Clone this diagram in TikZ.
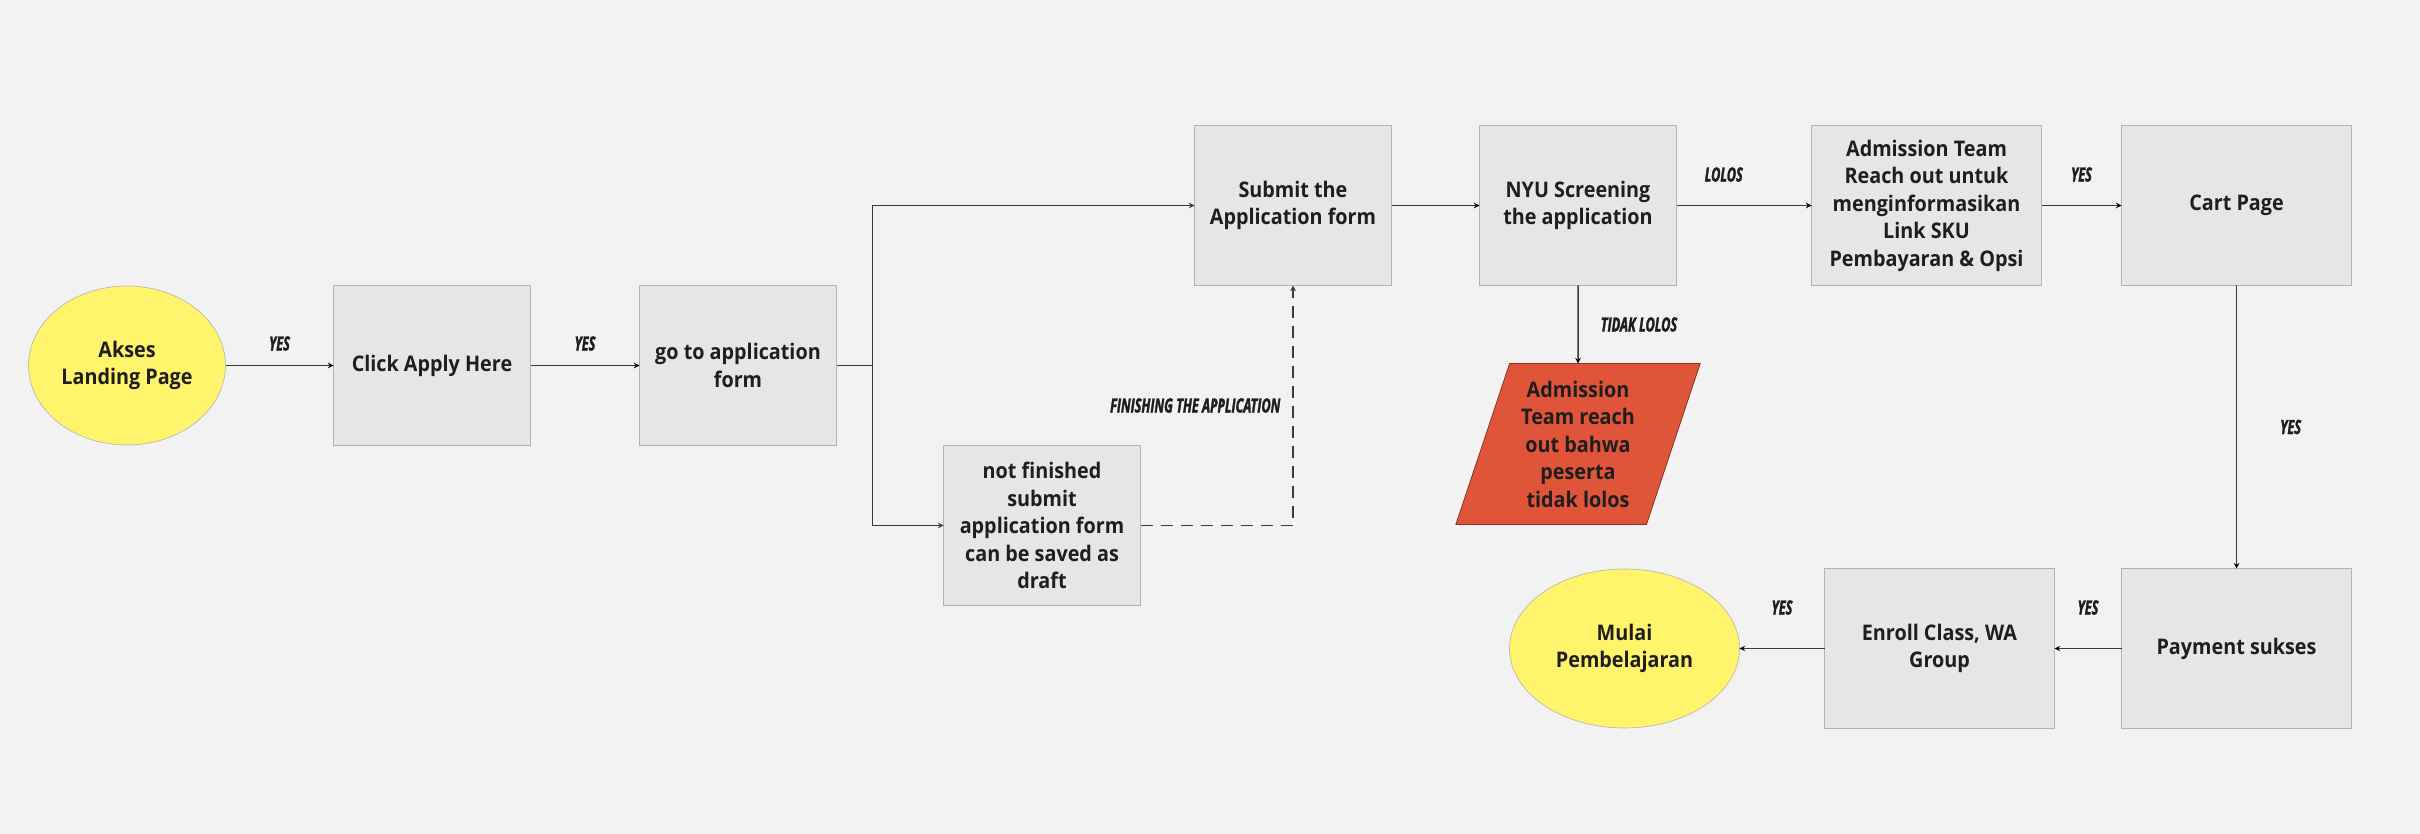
\documentclass[tikz,border=0pt]{standalone}
\usepackage{fontspec}
\usepackage{xcolor}
\usetikzlibrary{shapes,arrows,positioning}

\newfontfamily\boxfont[FakeStretch=0.92]{Open Sans}
\newfontfamily\lblfont[FakeStretch=0.65,FakeBold=1.6]{Open Sans}

\definecolor{bgcol}{HTML}{F2F2F2}
\definecolor{boxfill}{HTML}{E6E6E6}
\definecolor{boxline}{HTML}{B3B3B3}
\definecolor{startfill}{HTML}{FFF46B}
\definecolor{rejectfill}{HTML}{E0553A}
\definecolor{inkcol}{HTML}{1E1E1E}
\definecolor{flowline}{HTML}{3A3A3A}

\tikzset{
    boxtext/.style={align=center, text=inkcol,
        font=\boxfont\bfseries\fontsize{21.5}{27.5}\selectfont},
    process/.style={rectangle, draw=boxline, fill=boxfill, line width=1pt, outer sep=0pt,
        minimum width=197pt, minimum height=160pt, inner sep=4pt, boxtext},
    wideprocess/.style={process, minimum width=230pt},
    terminal/.style={ellipse, draw=gray!60, fill=startfill, line width=0.6pt, outer sep=0pt,
        minimum width=197pt, minimum height=159pt, inner sep=2pt, boxtext},
    reject/.style={trapezium, trapezium left angle=70.5, trapezium right angle=109.5,
        trapezium stretches=true, draw=rejectfill!60!black, fill=rejectfill, line width=0.8pt,
        outer sep=0pt, minimum width=245pt, minimum height=161pt, inner sep=2pt, boxtext},
    lbl/.style={font=\lblfont\bfseries\itshape\fontsize{19.6}{20}\selectfont,
        text=inkcol, inner sep=0pt},
    flow/.style={->, >=stealth, draw=flowline, line width=1.5pt}
}

\begin{document}
\begin{tikzpicture}[x=1pt, y=1pt]
    % Canvas
    \fill[bgcol] (0,0) rectangle (2420,-834);
    \useasboundingbox (0,0) rectangle (2420,-834);

    % Steps
    \node[terminal] (akses) at (127,-365.5) {Akses\\Landing Page};
    \node[process, right=108pt of akses] (click) {Click Apply Here};
    \node[process, right=109pt of click] (goform) {go to application\\form};
    \node[process, above right=0pt and 358pt of goform] (submit) {Submit the\\Application form};
    \node[process, below right=0pt and 107pt of goform] (draft) {not finished\\submit\\application form\\can be saved as\\draft};
    \node[process, right=88pt of submit] (screening) {NYU Screening\\the application};
    \node[reject, below=78pt of screening] (tidaklolos) {Admission\\Team reach\\out bahwa\\peserta\\tidak lolos};
    \node[wideprocess, right=135pt of screening] (admission) {Admission Team\\Reach out untuk\\menginformasikan\\Link SKU\\Pembayaran \& Opsi};
    \node[wideprocess, right=80pt of admission] (cart) {Cart Page};
    \node[wideprocess, below=283pt of cart] (payment) {Payment sukses};
    \node[wideprocess, left=67pt of payment] (enroll) {Enroll Class, WA\\Group};
    \node[terminal, minimum width=230pt, left=85pt of enroll] (mulai) {Mulai\\Pembelajaran};
    \coordinate[right=36pt of goform] (split);

    % Transitions
    \path[flow]
        (akses) edge node[lbl, above=14pt] {YES} (click)
        (click) edge node[lbl, above=14pt] {YES} (goform)
        (submit) edge (screening)
        (screening) edge node[lbl, above=23pt, pos=0.35] {LOLOS} (admission)
        (screening) edge node[lbl, right=22pt] {TIDAK LOLOS} (tidaklolos)
        (admission) edge node[lbl, above=23pt] {YES} (cart)
        (cart) edge node[lbl, right=43pt] {YES} (payment)
        (payment) edge node[lbl, above=33pt] {YES} (enroll)
        (enroll) edge node[lbl, above=33pt] {YES} (mulai);
    \draw[flowline, line width=1.5pt] (goform) -- (split);
    \draw[flow] (split) |- (submit);
    \draw[flow] (split) |- (draft);
    \draw[flow, dash pattern=on 12pt off 8pt] (draft) -| node[lbl, left=12pt, pos=0.75] {FINISHING THE APPLICATION} (submit);
\end{tikzpicture}
\end{document}
